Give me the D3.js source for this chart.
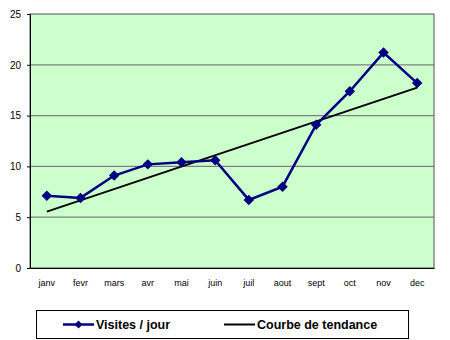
<!DOCTYPE html>
<html><head><meta charset="utf-8">
<script src="https://cdn.jsdelivr.net/npm/d3@7"></script>
<style>body{margin:0;background:#fff}svg{display:block}</style>
</head><body><svg id="c" width="450" height="340"></svg>
<script>
const months = ["janv","fevr","mars","avr","mai","juin","juil","aout","sept","oct","nov","dec"];
const visits = [7.1,6.9,9.1,10.2,10.4,10.6,6.7,8.0,14.1,17.4,21.2,18.2];
const trendEnds = [5.55,17.75];
const yTicks = [0,5,10,15,20,25];
const seriesNames = ["Visites / jour","Courbe de tendance"];

const svg = d3.select("#c");
const L=30,T=14,R=434,B=268;
const x = d3.scaleBand().domain(months).range([L,R]);
const y = d3.scaleLinear().domain([0,25]).range([B,T]);
const cx = d => x(d)+x.bandwidth()/2;

svg.append("rect").attr("x",L).attr("y",T).attr("width",R-L).attr("height",B-T).attr("fill","#CCFFCC");
svg.append("g").selectAll("line").data(yTicks.slice(1,-1)).join("line")
  .attr("x1",L).attr("x2",R).attr("y1",d=>y(d)).attr("y2",d=>y(d))
  .attr("stroke","#808080").attr("stroke-width",1.2);
svg.append("rect").attr("x",L).attr("y",T).attr("width",R-L).attr("height",B-T)
  .attr("fill","none").attr("stroke","#505050").attr("stroke-width",1);

const ya = svg.append("g").attr("transform",`translate(${L},0)`)
  .call(d3.axisLeft(y).tickValues(yTicks).tickSize(3).tickPadding(6));
ya.select(".domain").attr("stroke","#000");
ya.selectAll("text").attr("font-family","Arial, Liberation Sans, sans-serif").attr("font-size",10).attr("fill","#000");
const xa = svg.append("g").attr("transform",`translate(0,${B})`)
  .call(d3.axisBottom(x).tickSize(0).tickPadding(12));
xa.select(".domain").attr("stroke","#000");
xa.selectAll("text").attr("font-family","Arial, Liberation Sans, sans-serif").attr("font-size",9).attr("fill","#000");

// trend
svg.append("line").attr("x1",cx(months[0])).attr("y1",y(trendEnds[0]))
  .attr("x2",cx(months[months.length-1])).attr("y2",y(trendEnds[1]))
  .attr("stroke","#000").attr("stroke-width",2);

const line = d3.line().x((d,i)=>cx(months[i])).y(d=>y(d));
svg.append("path").datum(visits).attr("d",line).attr("fill","none").attr("stroke","#000080").attr("stroke-width",2.5);
const diamond = d3.symbol().type(d3.symbolDiamond2).size(70);
svg.append("g").selectAll("path").data(visits).join("path")
  .attr("d",diamond).attr("transform",(d,i)=>`translate(${cx(months[i])},${y(d)})`)
  .attr("fill","#000080");

// legend
const lg = svg.append("g");
lg.append("rect").attr("x",36.5).attr("y",310.5).attr("width",372).attr("height",28).attr("fill","#fff").attr("stroke","#000").attr("stroke-width",1);
lg.append("line").attr("x1",63).attr("x2",94).attr("y1",324.5).attr("y2",324.5).attr("stroke","#000080").attr("stroke-width",2.5);
lg.append("path").attr("d",d3.symbol().type(d3.symbolDiamond2).size(40)).attr("transform","translate(78.5,324.5)").attr("fill","#000080");
lg.append("text").attr("x",96).attr("y",329).text(seriesNames[0])
  .attr("font-family","Arial, Liberation Sans, sans-serif").attr("font-size",12.5).attr("font-weight","bold");
lg.append("line").attr("x1",224).attr("x2",255).attr("y1",324.5).attr("y2",324.5).attr("stroke","#000").attr("stroke-width",2);
lg.append("text").attr("x",257).attr("y",329).text(seriesNames[1])
  .attr("font-family","Arial, Liberation Sans, sans-serif").attr("font-size",12.5).attr("font-weight","bold");
</script></body></html>
